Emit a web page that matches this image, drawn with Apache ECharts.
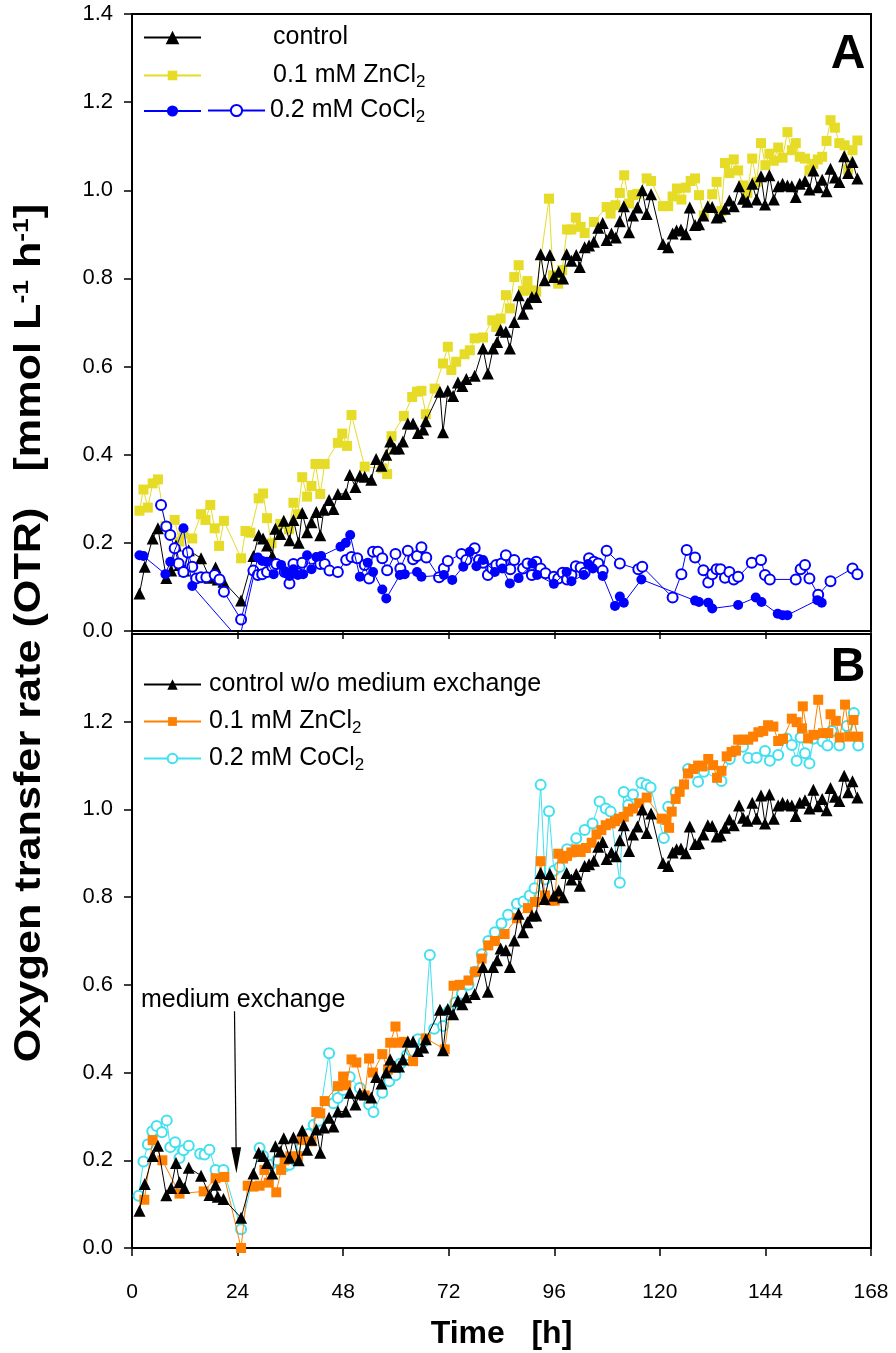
<!DOCTYPE html>
<html>
<head>
<meta charset="utf-8">
<script src="https://cdn.jsdelivr.net/npm/echarts@6/dist/echarts.min.js"></script>
<style>
html, body { margin: 0; padding: 0; background: #fff; }
#chart { width: 896px; height: 1353px; }
</style>
</head>
<body>
<div id="chart"></div>
<script>
// time [h], OTR [mmol L-1 h-1]
var timeTicks = [0, 24, 48, 72, 96, 120, 144, 168];

var control = [[1.7,0.085],[2.9,0.146],[4.7,0.21],[5.9,0.233],[7.8,0.12],[8.9,0.137],[10.0,0.194],[10.8,0.15],[11.9,0.137],[12.9,0.183],[15.7,0.165],[17.6,0.121],[19.0,0.144],[19.5,0.117],[20.8,0.112],[24.8,0.069],[27.6,0.17],[28.8,0.217],[29.8,0.21],[30.7,0.194],[31.9,0.17],[32.6,0.232],[33.7,0.22],[34.5,0.25],[35.8,0.206],[36.7,0.252],[37.9,0.2],[38.7,0.268],[39.8,0.224],[40.8,0.247],[41.9,0.27],[42.8,0.217],[43.6,0.275],[44.8,0.297],[45.8,0.277],[46.8,0.311],[48.6,0.311],[49.5,0.354],[50.8,0.327],[51.8,0.352],[52.9,0.35],[54.4,0.343],[55.5,0.39],[56.7,0.375],[57.8,0.4],[58.7,0.43],[59.7,0.414],[60.7,0.414],[61.6,0.43],[62.7,0.471],[63.9,0.471],[65,0.449],[66.2,0.457],[66.8,0.476],[70,0.543],[70.7,0.451],[71.8,0.545],[73,0.533],[74.1,0.564],[75.1,0.556],[76,0.572],[77.9,0.579],[79.8,0.641],[80.9,0.584],[82.1,0.641],[83,0.656],[83.8,0.683],[85,0.679],[85.9,0.641],[86.9,0.701],[87.9,0.762],[88.9,0.72],[89.9,0.743],[90.9,0.758],[91.9,0.758],[92.9,0.855],[93.8,0.796],[95,0.853],[95.9,0.803],[97,0.815],[98,0.8],[98.8,0.855],[99.9,0.84],[101,0.853],[101.8,0.826],[102.9,0.871],[103.9,0.875],[105,0.883],[106,0.915],[107,0.926],[107.9,0.887],[109,0.902],[110,0.893],[110.9,0.93],[111.8,0.964],[113,0.905],[113.9,0.943],[114.9,0.961],[116,1.0],[117,0.946],[118,0.991],[120.7,0.878],[121.9,0.871],[122.9,0.902],[123.8,0.909],[124.8,0.911],[125.9,0.9],[126.8,0.961],[128,0.921],[128.9,0.923],[129.9,0.943],[130.9,0.964],[131.9,0.962],[132.9,0.938],[133.8,0.941],[134.8,0.958],[135.8,0.977],[136.8,0.964],[138,1.009],[138.9,0.981],[139.9,0.974],[141,1.015],[142,0.979],[143,1.032],[143.9,0.968],[144.9,1.034],[145.9,0.979],[146.9,1.009],[147.9,1.015],[149,1.011],[150,1.009],[150.9,0.985],[151.8,1.015],[153,1.021],[154,1.002],[154.9,1.045],[155.9,1.007],[156.9,1.024],[157.9,0.998],[158.8,1.049],[159.8,1.029],[160.8,1.019],[161.9,1.077],[162.8,1.039],[163.8,1.064],[164.9,1.027]];

var zincA = [[1.7,0.273],[2.6,0.321],[3.6,0.28],[4.7,0.335],[5.9,0.344],[7.6,0.238],[9.7,0.252],[10.8,0.203],[11.7,0.221],[13.7,0.21],[15.7,0.265],[16.7,0.252],[17.8,0.286],[18.8,0.233],[19.8,0.193],[20.9,0.25],[24.8,0.165],[25.8,0.227],[26.9,0.223],[28.8,0.301],[29.8,0.312],[30.7,0.256],[31.7,0.199],[33.7,0.243],[35.7,0.231],[36.7,0.291],[37.7,0.265],[38.7,0.349],[39.8,0.305],[40.8,0.329],[41.7,0.379],[42.8,0.311],[43.8,0.379],[46.8,0.427],[47.8,0.448],[48.9,0.42],[49.9,0.49],[52.9,0.373],[56.9,0.369],[58,0.356],[59,0.442],[61.8,0.488],[63.7,0.531],[64.8,0.543],[65.8,0.545],[66.8,0.492],[68.8,0.55],[70.7,0.607],[71.8,0.645],[72.6,0.592],[73.7,0.611],[75.6,0.628],[76.8,0.637],[77.9,0.664],[79.8,0.666],[81.9,0.705],[82.8,0.69],[83.8,0.709],[85,0.762],[85.9,0.732],[86.9,0.803],[87.9,0.83],[88.9,0.772],[89.9,0.794],[90.9,0.773],[91.9,0.77],[94.8,0.981],[95.7,0.807],[96.9,0.788],[97.8,0.819],[98.9,0.911],[99.9,0.911],[100.9,0.938],[102,0.917],[102.9,0.903],[105,0.928],[107.9,0.962],[108.8,0.947],[109.9,0.966],[110.9,0.994],[111.9,1.034],[113,0.97],[113.9,0.989],[114.9,0.992],[117,1.027],[118,1.021],[120.7,0.964],[121.9,0.964],[122.9,0.986],[123.9,1.004],[124.9,0.979],[125.9,1.006],[127,1.021],[128,1.027],[128.9,0.989],[130,0.943],[131.9,0.991],[132.9,1.019],[134,0.953],[134.8,1.062],[135.8,1.039],[136.8,1.07],[137.8,1.045],[138.9,1.011],[139.9,0.994],[141,1.072],[142,1.019],[143,1.107],[144,1.057],[144.9,1.083],[145.9,1.067],[146.9,1.097],[147.9,1.074],[149,1.132],[150,1.091],[150.9,1.107],[151.8,1.076],[153,1.072],[154,1.045],[154.9,1.06],[155.9,1.07],[156.9,1.076],[157.9,1.112],[158.8,1.159],[159.8,1.142],[160.8,1.107],[162,1.102],[162.8,1.047],[163.8,1.091],[164.9,1.113]];

var cobaltFilledA = [[1.7,0.172],[2.6,0.17],[7.6,0.129],[8.7,0.157],[11.7,0.233],[13.7,0.102],[24.4,-0.02],[28.6,0.167],[29.6,0.159],[30.7,0.157],[32.2,0.129],[33.9,0.15],[34.9,0.134],[35.8,0.125],[36.7,0.14],[37.7,0.127],[38.9,0.129],[39.8,0.172],[40.8,0.14],[41.9,0.168],[43,0.17],[47.4,0.191],[48.6,0.2],[49.6,0.218],[51.8,0.123],[53.6,0.155],[54.8,0.134],[56.9,0.094],[57.8,0.074],[60.9,0.127],[62,0.129],[64.8,0.134],[65.8,0.123],[70.9,0.127],[72.8,0.116],[75.3,0.146],[76.8,0.18],[78.3,0.147],[79.8,0.161],[82.5,0.134],[84.2,0.142],[85.9,0.108],[87.9,0.12],[91,0.153],[92.1,0.127],[95.9,0.107],[98.8,0.134],[99.9,0.113],[102.7,0.127],[103.7,0.152],[104.8,0.142],[107,0.125],[109.8,0.057],[110.9,0.078],[111.8,0.064],[115.8,0.117],[128,0.069],[128.9,0.066],[131,0.064],[131.9,0.051],[137.8,0.059],[141.8,0.076],[143.1,0.066],[146.8,0.039],[147.9,0.036],[149,0.036],[155.8,0.07],[156.8,0.064]];

var cobaltOpenA = [[6.6,0.286],[7.8,0.237],[8.7,0.218],[9.7,0.188],[10.6,0.153],[11.7,0.134],[12.7,0.178],[13.7,0.146],[14.6,0.119],[15.7,0.122],[16.9,0.122],[18.8,0.127],[19.9,0.117],[20.9,0.089],[24.8,0.026],[27.6,0.137],[28.6,0.127],[29.6,0.129],[30.7,0.134],[31.9,0.146],[32.8,0.152],[34.7,0.134],[35.8,0.108],[36.7,0.152],[37.7,0.131],[38.7,0.155],[42.8,0.152],[43.8,0.152],[44.9,0.137],[46.8,0.134],[48.7,0.161],[49.9,0.168],[51.2,0.165],[52.9,0.15],[53.9,0.119],[54.8,0.18],[55.9,0.18],[56.9,0.165],[58,0.138],[59.9,0.175],[61,0.142],[62.7,0.182],[63.9,0.163],[64.8,0.17],[65.8,0.19],[66.9,0.167],[69.8,0.122],[70.9,0.142],[71.8,0.159],[74.9,0.175],[76,0.161],[77.9,0.188],[78.9,0.161],[79.8,0.155],[80.9,0.127],[81.9,0.142],[82.8,0.15],[84,0.153],[85,0.172],[86,0.14],[86.9,0.161],[88.9,0.142],[89.9,0.153],[90.9,0.127],[91.9,0.157],[92.9,0.142],[94,0.131],[95.9,0.123],[96.9,0.119],[97.9,0.132],[98.9,0.117],[99.9,0.127],[100.9,0.147],[102,0.144],[102.9,0.132],[103.9,0.165],[105,0.157],[106,0.153],[107,0.137],[107.9,0.182],[110.9,0.153],[115.1,0.14],[116,0.146],[122.9,0.076],[124.9,0.129],[126.1,0.184],[128,0.167],[129.9,0.138],[131,0.11],[131.9,0.129],[132.9,0.14],[133.8,0.14],[134.8,0.121],[135.8,0.134],[136.8,0.117],[137.8,0.123],[140.9,0.155],[143,0.161],[143.9,0.127],[145,0.117],[150.9,0.117],[152,0.14],[153,0.15],[154,0.119],[156,0.082],[158.8,0.113],[163.8,0.142],[164.9,0.129]];

var zincB = [[2.8,0.11],[4.7,0.246],[6.9,0.2],[10.8,0.124],[16.3,0.129],[19,0.159],[21,0.162],[24.8,0.0],[26.3,0.142],[27.6,0.14],[29,0.142],[30.1,0.178],[31.1,0.149],[32.8,0.127],[33.9,0.178],[34.7,0.2],[36,0.209],[37.7,0.209],[38.7,0.246],[40.8,0.243],[41.9,0.31],[42.8,0.307],[43.8,0.335],[46.8,0.369],[48,0.391],[48.7,0.371],[49.9,0.43],[51,0.423],[52.9,0.348],[53.9,0.432],[54.8,0.4],[56.9,0.442],[58.2,0.407],[58.7,0.468],[59.9,0.505],[60.7,0.468],[61.8,0.47],[63.9,0.426],[66.8,0.478],[71.1,0.453],[73.1,0.598],[74.5,0.6],[76.5,0.61],[78,0.63],[79.5,0.66],[81,0.69],[82.5,0.7],[84.7,0.716],[87.5,0.752],[90,0.775],[91.6,0.789],[92.9,0.882],[93.9,0.804],[95.1,0.792],[96.1,0.792],[96.9,0.899],[98,0.888],[98.9,0.894],[99.9,0.902],[101,0.909],[102,0.903],[103.2,0.912],[104.5,0.924],[105.6,0.943],[106.7,0.953],[107.7,0.964],[108.8,0.968],[109.8,0.973],[110.7,0.979],[111.8,0.983],[112.8,0.995],[113.9,1.002],[115.3,1.014],[117,1.027],[120.4,0.979],[121.5,0.976],[122.1,0.958],[122.7,0.995],[123.6,1.024],[124.5,1.04],[125.5,1.057],[126.4,1.082],[127.6,1.092],[128.7,1.1],[129.7,1.098],[131,1.115],[132.1,1.101],[133,1.072],[134,1.088],[135.2,1.121],[136.3,1.131],[137.3,1.134],[137.8,1.159],[138.9,1.159],[140.1,1.159],[141.2,1.166],[142.4,1.176],[143.5,1.179],[144.6,1.192],[145.8,1.189],[146.9,1.156],[148,1.161],[150,1.207],[151.1,1.199],[152.3,1.185],[152.5,1.235],[153.7,1.162],[154.9,1.17],[156,1.25],[157.1,1.174],[158.3,1.174],[158.8,1.217],[160,1.202],[160.9,1.164],[162.1,1.239],[163.2,1.166],[164,1.204],[165.1,1.166]];

var cobaltB = [[1.5,0.119],[2.6,0.197],[3.6,0.236],[4.6,0.266],[5.6,0.278],[6.8,0.264],[7.9,0.291],[8.7,0.23],[9.8,0.241],[10.8,0.205],[11.7,0.223],[12.9,0.233],[15.5,0.215],[16.5,0.213],[17.6,0.224],[19,0.178],[20.8,0.178],[24.8,0.043],[29,0.228],[29.8,0.21],[31.5,0.19],[33,0.2],[34.7,0.186],[35.8,0.19],[37,0.2],[38.5,0.23],[40,0.26],[41.3,0.281],[42.5,0.29],[44.8,0.444],[45.8,0.33],[46.8,0.342],[48,0.36],[49.5,0.39],[51.8,0.365],[53.9,0.327],[54.9,0.31],[56.9,0.354],[58.5,0.38],[59.9,0.394],[61,0.42],[62.5,0.44],[63.5,0.45],[65,0.476],[66.3,0.47],[67.7,0.668],[68.7,0.5],[70.7,0.506],[72,0.54],[73.5,0.56],[75,0.58],[76.5,0.6],[78,0.63],[79.5,0.67],[81,0.7],[82.5,0.72],[84,0.74],[85.5,0.76],[87.5,0.785],[89,0.79],[90.4,0.804],[91.5,0.82],[92.9,1.056],[93.9,0.84],[94.8,0.996],[95.9,0.86],[97.2,0.869],[98.9,0.909],[101,0.934],[102.9,0.953],[104.7,0.968],[106.3,1.018],[107.7,1.002],[108.8,0.995],[110.9,0.833],[111.8,1.04],[112.8,1.01],[113.9,1.034],[115.8,1.06],[117,1.056],[117.9,1.05],[120.9,0.935],[121.9,1.006],[123.6,1.039],[126.4,1.092],[128.7,1.063],[130,1.086],[134,1.065],[135.9,1.115],[138.9,1.143],[140.1,1.117],[142,1.118],[143.9,1.133],[145,1.111],[146.9,1.124],[148.8,1.162],[150,1.147],[151.1,1.111],[152,1.164],[153,1.128],[154,1.105],[154.9,1.161],[157,1.155],[158.1,1.146],[159.1,1.179],[160.8,1.146],[162.5,1.19],[164.1,1.22],[165.1,1.146]];

// arrow "medium exchange" (from / to, in data units of panel B)
var exchangeArrow = [[23.3, 0.54], [23.7, 0.2]];

var FONT = 'Liberation Sans, Arial, sans-serif';

var legendText = {
    ctrlA: '{pa|control}',
    znA: '{pa|0.1 mM ZnCl}{sb|2}',
    coFilledA: '',
    coOpenA: '{t|0.2 mM CoCl}{sb|2}',
    ctrlB: '{pb|control w/o medium exchange}',
    znB: '{pb|0.1 mM ZnCl}{sb|2}',
    coB: '{pb|0.2 mM CoCl}{sb|2}'
};
var richText = {
    t: { fontFamily: FONT, fontSize: 25, color: '#000' },
    pa: { fontFamily: FONT, fontSize: 25, color: '#000', padding: [0, 0, 0, 67] },
    pb: { fontFamily: FONT, fontSize: 25, color: '#000', padding: [0, 0, 0, 3] },
    sb: { fontFamily: FONT, fontSize: 17, color: '#000', padding: [14, 0, 0, 0] }
};

function mkLegend(name, left, top, itemHeight){
    return {
        data: [name],
        left: left,
        top: top,
        orient: 'vertical',
        padding: 0,
        itemWidth: 57,
        itemHeight: itemHeight,
        selectedMode: false,
        formatter: function(n){ return legendText[n]; },
        textStyle: { fontFamily: FONT, fontSize: 25, color: '#000', rich: richText }
    };
}

function mkX(gridIndex, showLabels){
    return {
        type: 'value', gridIndex: gridIndex, min: 0, max: 168, interval: 24,
        axisLine: { show: true, onZero: false, lineStyle: { color: '#000', width: 2 } },
        axisTick: { show: true, inside: false, length: 8, lineStyle: { color: '#000', width: 1.5 } },
        axisLabel: {
            show: showLabels, margin: 34, color: '#000', fontFamily: FONT, fontSize: 21
        },
        splitLine: { show: false },
        name: showLabels ? 'Time   [h]' : '',
        nameLocation: 'middle',
        nameGap: 70,
        nameTextStyle: { fontFamily: FONT, fontSize: 32, fontWeight: 'bold', color: '#000' }
    };
}

function mkY(gridIndex, showMax){
    return {
        type: 'value', gridIndex: gridIndex, min: 0, max: 1.4, interval: 0.2,
        axisLine: { show: true, onZero: false, lineStyle: { color: '#000', width: 2 } },
        axisTick: { show: true, inside: false, length: 8, lineStyle: { color: '#000', width: 1.5 } },
        axisLabel: {
            margin: 19, color: '#000', fontFamily: FONT, fontSize: 22, showMaxLabel: showMax,
            formatter: function(v){ return v.toFixed(1); }
        },
        splitLine: { show: false }
    };
}

function mkSeries(name, data, axis, symbol, size, color, z){
    return {
        name: name, type: 'line', data: data,
        xAxisIndex: axis, yAxisIndex: axis,
        symbol: symbol, symbolSize: size, showAllSymbol: true,
        lineStyle: { color: color, width: 1 },
        itemStyle: { color: color, borderWidth: 1 },
        emphasis: { disabled: true },
        animation: false, z: z
    };
}

var seriesList = [
    mkSeries('znA', zincA, 0, 'rect', 10, '#e6dc28', 2),
    mkSeries('ctrlA', control, 0, 'triangle', 12, '#000000', 3),
    mkSeries('coOpenA', cobaltOpenA, 0, 'emptyCircle', 10, '#0000ff', 4),
    mkSeries('coFilledA', cobaltFilledA, 0, 'circle', 10, '#0000ff', 5),
    mkSeries('coB', cobaltB, 1, 'emptyCircle', 10, '#40e0f0', 2),
    mkSeries('znB', zincB, 1, 'rect', 10, '#ff8000', 3),
    mkSeries('ctrlB', control, 1, 'triangle', 12, '#000000', 4)
];
seriesList[6].markLine = {
    silent: true, animation: false,
    symbol: ['none', 'triangle'], symbolSize: [10, 26],
    label: { show: false },
    lineStyle: { color: '#000', width: 1.2, type: 'solid' },
    data: [[{ coord: exchangeArrow[0] }, { coord: exchangeArrow[1] }]]
};

var chart = echarts.init(document.getElementById('chart'), null, { renderer: 'canvas' });
chart.setOption({
    backgroundColor: '#fff',
    animation: false,
    grid: [
        { left: 132, top: 14, width: 739, height: 617, show: true, borderColor: '#000', borderWidth: 2 },
        { left: 132, top: 634, width: 739, height: 614, show: true, borderColor: '#000', borderWidth: 2 }
    ],
    xAxis: [mkX(0, false), mkX(1, true)],
    yAxis: [mkY(0, true), mkY(1, false)],
    legend: [
        mkLegend('ctrlA', 143, 25, 17),
        mkLegend('znA', 143, 63, 12),
        mkLegend('coFilledA', 143, 104, 14),
        mkLegend('coOpenA', 207, 98, 14),
        mkLegend('ctrlB', 143, 672, 13),
        mkLegend('znB', 143, 709, 11),
        mkLegend('coB', 143, 746, 12)
    ],
    graphic: [
        {
            type: 'text', x: 30, y: 633, rotation: Math.PI / 2, scaleX: 1.2,
            style: {
                text: 'Oxygen transfer rate (OTR)   [mmol L{sp|-1} h{sp|-1}]',
                align: 'center', verticalAlign: 'middle',
                fontFamily: FONT, fontSize: 36, fontWeight: 'bold', fill: '#000',
                rich: {
                    sp: { fontFamily: FONT, fontSize: 22, fontWeight: 'bold', padding: [0, 0, 16, 0] }
                }
            }
        },
        {
            type: 'text', x: 848, y: 55,
            style: { text: 'A', align: 'center', verticalAlign: 'middle', fontFamily: FONT, fontSize: 48, fontWeight: 'bold', fill: '#000' }
        },
        {
            type: 'text', x: 848, y: 668,
            style: { text: 'B', align: 'center', verticalAlign: 'middle', fontFamily: FONT, fontSize: 48, fontWeight: 'bold', fill: '#000' }
        },
        {
            type: 'text', x: 141, y: 1000,
            style: { text: 'medium exchange', align: 'left', verticalAlign: 'middle', fontFamily: FONT, fontSize: 25, fill: '#000' }
        }
    ],
    series: seriesList
});
</script>
</body>
</html>
